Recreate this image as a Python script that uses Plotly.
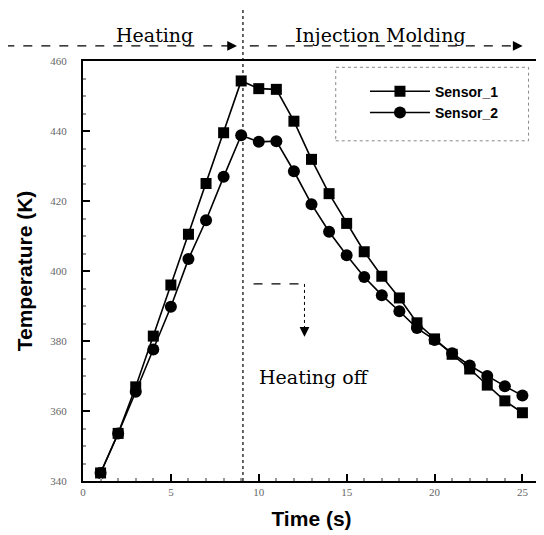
import plotly.graph_objects as go

time_s = list(range(1, 26))
sensor_1 = [342.3, 353.6, 366.9, 381.4, 396.0, 410.5, 425.0, 439.5, 454.3, 452.1,
            451.9, 442.8, 431.9, 422.1, 413.6, 405.5, 398.5, 392.3, 385.2, 380.6,
            376.2, 372.0, 367.4, 362.9, 359.5]
sensor_2 = [342.3, 353.6, 365.5, 377.6, 389.8, 403.4, 414.5, 426.9, 438.8, 436.9,
            437.1, 428.5, 419.1, 411.2, 404.5, 398.3, 393.1, 388.5, 383.7, 380.3,
            376.5, 373.0, 370.0, 367.1, 364.4]
x_ticks = [0, 5, 10, 15, 20, 25]
y_ticks = [340, 360, 380, 400, 420, 440, 460]

heating_end = 9.1

fig = go.Figure()
fig.add_trace(go.Scatter(x=time_s, y=sensor_1, name="Sensor_1", mode="lines+markers",
                         line=dict(color="black", width=1.6),
                         marker=dict(symbol="square", size=11, color="black")))
fig.add_trace(go.Scatter(x=time_s, y=sensor_2, name="Sensor_2", mode="lines+markers",
                         line=dict(color="black", width=1.6),
                         marker=dict(symbol="circle", size=12, color="black")))

serif = "DejaVu Serif, Liberation Serif, serif"
tick_serif = "Liberation Serif, DejaVu Serif, serif"
sans = "Liberation Sans, Arial, sans-serif"

axis_common = dict(showline=True, linecolor="black", linewidth=2, mirror=True,
                   ticks="inside", ticklen=7, tickwidth=2, tickcolor="black",
                   showgrid=False, zeroline=False, automargin=False,
                   tickfont=dict(family=tick_serif, size=11, color="#666"))
fig.update_xaxes(range=[0, 26], tickvals=x_ticks,
                 title=dict(text="<b>Time (s)</b>", font=dict(family=sans, size=21, color="black"), standoff=14),
                 minor=dict(dtick=1, ticks="inside", ticklen=3, tickcolor="#999"),
                 **axis_common)
fig.update_yaxes(range=[340, 460], tickvals=y_ticks, ticklabelstandoff=12,
                 title=dict(text="<b>Temperature (K)</b>", font=dict(family=sans, size=21, color="black"), standoff=12),
                 minor=dict(dtick=5, ticks="inside", ticklen=3, tickcolor="#999"),
                 **axis_common)

# vertical dashed divider
fig.add_shape(type="line", xref="x", yref="paper", x0=heating_end, x1=heating_end,
              y0=0, y1=1.2, line=dict(color="black", width=1.2, dash="dot"))
# top dashed arrows
fig.add_shape(type="line", xref="paper", yref="paper", x0=-0.17, x1=0.33, y0=1.036, y1=1.036,
              line=dict(color="black", width=1.3, dash="dash"))
fig.add_shape(type="line", xref="paper", yref="paper", x0=0.365, x1=0.955, y0=1.036, y1=1.036,
              line=dict(color="black", width=1.3, dash="dash"))
for xh in [0.337, 0.962]:
    fig.add_annotation(xref="paper", yref="paper", x=xh, y=1.036, ax=-8, ay=0, text="",
                       showarrow=True, arrowhead=2, arrowsize=1.3, arrowwidth=1.5, arrowcolor="black")
fig.add_annotation(xref="paper", yref="paper", x=0.157, y=1.062, xanchor="center", yanchor="middle",
                   text="Heating", showarrow=False, font=dict(family=serif, size=19, color="black"))
fig.add_annotation(xref="paper", yref="paper", x=0.65, y=1.062, xanchor="center", yanchor="middle",
                   text="Injection Molding", showarrow=False, font=dict(family=serif, size=19, color="black"))

# heating off dashed arrow
fig.add_shape(type="line", xref="x", yref="y", x0=9.7, x1=12.6, y0=396.3, y1=396.3,
              line=dict(color="black", width=1.2, dash="dash"))
fig.add_shape(type="line", xref="x", yref="y", x0=12.6, x1=12.6, y0=396.3, y1=383.5,
              line=dict(color="black", width=1, dash="dot"))
fig.add_annotation(xref="x", yref="y", x=12.6, y=381.2, ax=0, ay=-8, text="",
                   showarrow=True, arrowhead=2, arrowsize=1.3, arrowwidth=1.5, arrowcolor="black")
fig.add_annotation(xref="x", yref="y", x=13.14, y=369.7, xanchor="center", yanchor="middle",
                   text="Heating off", showarrow=False, font=dict(family=serif, size=19, color="black"))

# dotted legend frame
fig.add_shape(type="rect", xref="paper", yref="paper", x0=0.553, x1=0.975, y0=0.81, y1=0.985,
              line=dict(color="#888", width=1, dash="dot"))

# the page body adds an 8 px offset, so the figure is 8 px smaller than the window
fig.update_layout(
    width=536, height=527,
    margin=dict(l=75, r=4, t=53, b=54, autoexpand=False),
    paper_bgcolor="white", plot_bgcolor="white",
    showlegend=True,
    legend=dict(x=0.617, y=0.965, xanchor="left", yanchor="top", bgcolor="rgba(0,0,0,0)",
                borderwidth=0, font=dict(family=sans, size=14, color="black", weight="bold"),
                itemwidth=60, tracegroupgap=0),
)
fig.write_html("out.html")
